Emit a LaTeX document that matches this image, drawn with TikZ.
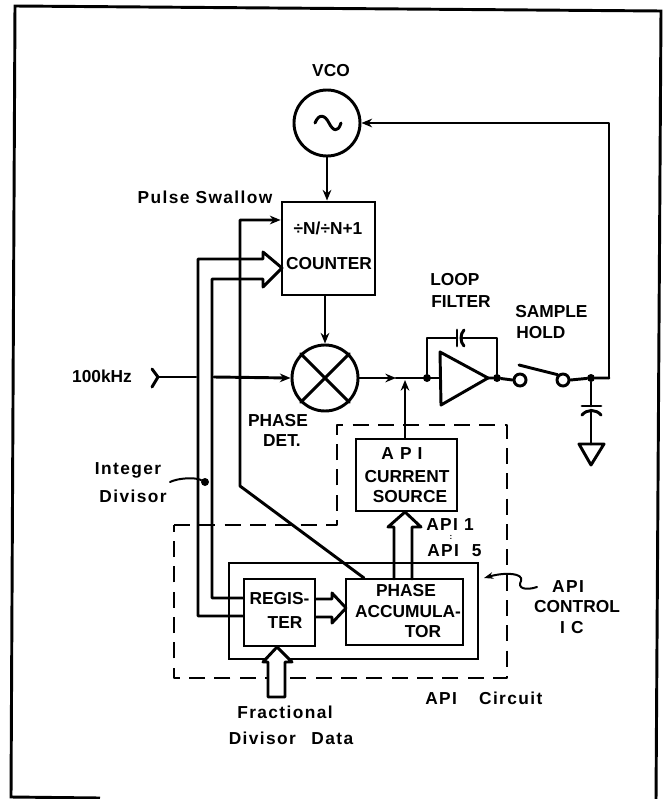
\documentclass[tikz,border=0pt]{standalone}
\usepackage{fontspec}
\setmainfont{Liberation Sans}[BoldFont=*]
\newfontfamily\lsf[LetterSpace=8]{Liberation Sans Bold}
\newfontfamily\wsf[LetterSpace=35]{Liberation Sans Bold}
\newfontfamily\bsf{Liberation Sans Bold}
\usetikzlibrary{arrows.meta,calc}
\tikzset{
  wire/.style={line width=2.2pt,line join=round,line cap=round},
  thin wire/.style={line width=1.5pt,line join=round,line cap=round},
  arr/.style={wire,-{Stealth[length=8pt,width=6.5pt]}},
  frame line/.style={line width=2.2pt},
  dash line/.style={line width=1.6pt,dash pattern=on 12pt off 7pt,line join=round},
  box/.style={draw,line width=2.2pt,rectangle,inner sep=0pt},
  ring/.style={draw,circle,line width=2.2pt,inner sep=0pt,fill=white},
  dot/.style={circle,fill=black,inner sep=0pt,minimum size=6pt},
  lab/.style={font=\bsf\fontsize{13}{15}\selectfont,inner sep=0pt},
  slab/.style={font=\lsf\fontsize{13}{15}\selectfont,inner sep=0pt},
  wlab/.style={font=\wsf\fontsize{13}{15}\selectfont,inner sep=0pt},
}
\begin{document}
\begin{tikzpicture}[x=0.75pt,y=-0.75pt]
\useasboundingbox (0,0) rectangle (668,799);
% frame
\coordinate (fa) at (15,6); \coordinate (fb) at (661,11); \coordinate (fc) at (656,800); \coordinate (fd) at (11,797); \coordinate (fe) at (100,798);
\draw[frame line] (fe) -- (fd) -- (fa) -- (fb) -- (fc);

% dashed API circuit outline
\coordinate (d1) at (174,525); \coordinate (d2) at (337,525); \coordinate (d3) at (337,425);
\coordinate (d4) at (507,425); \coordinate (d5) at (507,678); \coordinate (d6) at (174,678);
\draw[dash line] (d1) -- (d2) -- (d3) -- (d4) -- (d5) -- (d6) -- cycle;

% main blocks
\node[ring,minimum size=66pt*0.75] (vco) at (327,123) {};
\node[box,minimum width=93*0.75pt,minimum height=93*0.75pt] (counter) at (328.5,248.5) {};
\node[ring,minimum size=66pt*0.75] (mix) at (325,378) {};
\node[box,minimum width=101*0.75pt,minimum height=72*0.75pt] (cs) at (406.5,475) {};
\node[box,line width=1.6pt,minimum width=249*0.75pt,minimum height=96*0.75pt] (ic) at (353.5,611) {};
\node[box,fill=white,minimum width=71*0.75pt,minimum height=67*0.75pt] (reg) at (279.5,612.5) {};
\node[box,fill=white,minimum width=117*0.75pt,minimum height=66*0.75pt] (pa) at (404.5,612) {};

% VCO sine
\draw[wire] (315,123) .. controls (319,113) and (325,115) .. (329,123) .. controls (333,131) and (338,133) .. (341,123);
% mixer cross
\draw[wire] (mix.north west) -- (mix.south east) (mix.north east) -- (mix.south west);

% VCO to counter, counter to mixer
\draw[arr] (vco.south) -- (vco.south |- counter.north);
\draw[arr] (counter.south -| mix.north) -- (mix.north);

% input
\coordinate (inA) at (152,369); \coordinate (inB) at (158,377); \coordinate (inC) at (152,387);
\coordinate (inD) at (196,377); \coordinate (inE) at (214,377);
\draw[wire] (inA) -- (inB) -- (inC);
\draw[wire] (inB) -- (inD);
\draw[arr] (inE) -- (mix.west);

% pulse swallow line and diagonal
\coordinate (psA) at (240,220); \coordinate (psB) at (240,486); \coordinate (psC) at (364,578);
\draw[arr] (psC) -- (psB) -- (psA) -- (counter.west |- psA);

% integer divisor hollow arrow
\coordinate (h1) at (198,616); \coordinate (h2) at (198,259); \coordinate (h3) at (263,259);
\coordinate (h4) at (263,252); \coordinate (h5) at (282,268); \coordinate (h6) at (263,287);
\coordinate (h7) at (263,279); \coordinate (h8) at (212,279); \coordinate (h9) at (212,598);
\draw[wire] (reg.west |- h1) -- (h1) -- (h2) -- (h3) -- (h4) -- (h5) -- (h6) -- (h7) -- (h8) -- (h9) -- (reg.west |- h9);

% register to accumulator hollow arrow
\coordinate (r1) at (332,599); \coordinate (r2) at (332,593); \coordinate (r3) at (346,608);
\coordinate (r4) at (332,623); \coordinate (r5) at (332,617);
\draw[wire] (reg.east |- r1) -- (r1) -- (r2) -- (r3) -- (r4) -- (r5) -- (reg.east |- r5);

% fractional data hollow arrow
\coordinate (f1) at (268,697); \coordinate (f2) at (285,697); \coordinate (f3) at (285,662); \coordinate (f4) at (292,662);
\coordinate (f5) at (277,647); \coordinate (f6) at (263,662); \coordinate (f7) at (268,662);
\fill[white] (f1) -- (f2) -- (f3) -- (f7) -- cycle;
\fill[white] (f4) -- (f5) -- (f6) -- cycle;
\draw[wire] (f1) -- (f2) -- (f3) -- (f4) -- (f5) -- (f6) -- (f7) -- cycle;

% accumulator to current source hollow arrow
\coordinate (c1) at (394,579); \coordinate (c2) at (394,527); \coordinate (c3) at (388,527);
\coordinate (c4) at (405,512); \coordinate (c5) at (421,527); \coordinate (c6) at (412,527); \coordinate (c7) at (412,579);
\draw[wire] (c1) -- (c2) -- (c3) -- (c4) -- (c5) -- (c6) -- (c7);

% loop filter
\coordinate (ampA) at (440,352); \coordinate (ampB) at (488,378); \coordinate (ampC) at (441,405);
\draw[wire] (ampA) -- (ampB) -- (ampC) -- cycle;
\node[dot] (jin) at (427,378) {};
\node[dot] (jout) at (497,378) {};
\coordinate (mixMid) at (396,378);
\coordinate (ampIn) at (440,378);
\draw[arr] (mix.east) -- (mixMid);
\draw[wire] (mixMid) -- (ampIn);
\draw[arr] (cs.north -| 405,0) -- (405,380);
\coordinate (fbL) at (427,338); \coordinate (fbR) at (497,338);
\coordinate (capL) at (457,338); \coordinate (capR) at (461,338);
\draw[wire] (jin) -- (fbL) -- (capL);
\draw[wire] (capR) -- (fbR) -- (jout);
\draw[wire] (457,330) -- (457,346);
\draw[wire] (464,330) .. controls (460,334) and (460,342) .. (464,346);

% sample hold
\node[ring,minimum size=12pt*0.75] (s1) at (520,380) {};
\node[ring,minimum size=12pt*0.75] (s2) at (563,380) {};
\draw[wire] (ampB) -- (jout) -- (s1.west);
\coordinate (arm) at (519,365);
\draw[wire] (arm) -- (s2.north west);
\node[dot] (jcap) at (591,378) {};
\coordinate (rt) at (609,378); \coordinate (rb) at (609,123);
\draw[wire] (s2.east) -- (jcap) -- (rt);
\draw[arr] (rt) -- (rb) -- (vco.east);

% hold capacitor and ground
\draw[wire] (jcap) -- (591,406);
\draw[wire] (582,406) -- (601,406);
\draw[wire] (582,415) .. controls (587,409) and (596,409) .. (601,415);
\coordinate (g1) at (579,444); \coordinate (g2) at (604,444); \coordinate (g3) at (591,465);
\draw[wire] (591,410) -- (591,444);
\draw[wire] (g1) -- (g2) -- (g3) -- cycle;

% integer divisor leader
\node[dot] (idDot) at (205,482) {};
\coordinate (idL) at (170,482);
\draw[thin wire] (idL) .. controls (178,478) and (195,477) .. (idDot);

% API control leader
\coordinate (acE) at (537,587); \coordinate (acT) at (484,578);
\draw[thin wire,-{Stealth[length=7pt,width=5pt]}] (acE) .. controls (525,591) and (517,588) .. (521,581) .. controls (524,573) and (505,572) .. (acT);

% labels
\node[lab] (tVCO) at (331,71) {VCO};
\node[slab] (tPS) at (205,197) {Pulse Swallow};
\node[lab] (tN) at (328,228) {÷N/÷N+1};
\node[lab] (tCounter) at (329,264) {COUNTER};
\node[lab,anchor=west] (tLoop) at (430,280) {LOOP};
\node[lab,anchor=west] (tFilter) at (431,302) {FILTER};
\node[lab,anchor=west] (tSample) at (515,312) {SAMPLE};
\node[lab,anchor=west] (tHold) at (516,333) {HOLD};
\node[lab] (tPhase) at (278,421) {PHASE};
\node[lab] (tDet) at (282,441) {DET.};
\node[slab] (tInt) at (128,470) {Integer};
\node[slab] (tDiv) at (133,496) {Divisor};
\node[lab] (t100) at (102,376) {100kHz};
\node[wlab] (tAPI) at (402,454) {API};
\node[lab] (tCur) at (407,477) {CURRENT};
\node[lab] (tSrc) at (410,497) {SOURCE};
\node[slab,anchor=west] (tA1) at (426,525) {API 1};
\node[inner sep=0pt,font=\bsf\fontsize{6}{6}\selectfont] (tColon) at (451,537) {:};
\node[slab,anchor=west] (tA5) at (427,551) {API\hspace{5pt} 5};
\node[lab] (tReg) at (279.5,599) {REGIS-};
\node[lab] (tTer) at (285,623) {TER};
\node[lab] (tPh2) at (406,591) {PHASE};
\node[lab] (tAcc) at (408,612) {ACCUMULA-};
\node[lab] (tTor) at (423,632) {TOR};
\node[slab] (tCtlA) at (568,587) {API};
\node[lab] (tCtl) at (577,607) {CONTROL};
\node[slab] (tCtlI) at (572,628) {I C};
\node[slab,anchor=west] (tCirc) at (425,698) {API\hspace{12pt} Circuit};
\node[slab] (tFrac) at (285,712) {Fractional};
\node[slab] (tData) at (291,738) {Divisor\hspace{7pt} Data};
\end{tikzpicture}
\end{document}
